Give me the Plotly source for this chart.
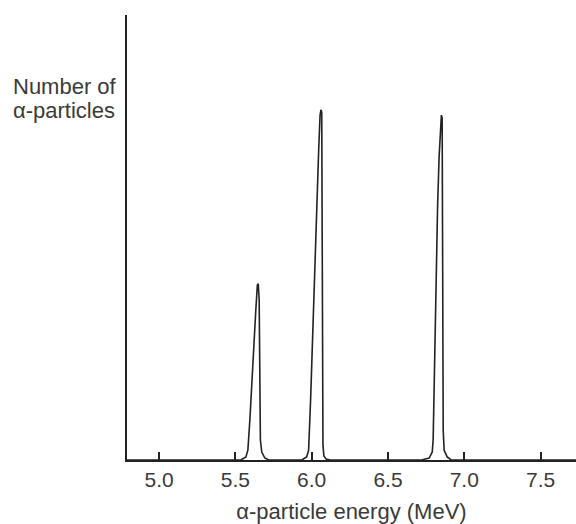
import plotly.graph_objects as go

# Spectrum outline (energy in MeV, counts in arbitrary units)
energy = [4.79, 5.50, 5.536, 5.569, 5.582, 5.595, 5.608, 5.621, 5.634, 5.644, 5.650,
          5.656, 5.659, 5.664, 5.673, 5.693, 5.719,
          5.935, 5.967, 5.980, 5.993, 6.007, 6.020, 6.033, 6.046, 6.055, 6.061, 6.066,
          6.069, 6.071, 6.074, 6.080, 6.095, 6.121,
          6.720, 6.770, 6.790, 6.796, 6.803, 6.808, 6.816, 6.825, 6.835, 6.845, 6.850,
          6.855, 6.858, 6.860, 6.862, 6.868, 6.888, 6.914, 7.732]
counts = [0, 0, 0, 0.7, 2.2, 9.0, 18.0, 27.0, 33.7, 39.3, 39.6,
          36.0, 13.5, 4.5, 1.8, 0.45, 0,
          0, 0.7, 2.2, 13.5, 29.2, 44.9, 58.4, 69.7, 77.5, 78.7, 78.2,
          58.4, 13.5, 3.4, 0.9, 0.2, 0,
          0, 0.45, 1.8, 4.5, 18.0, 30.8, 44.9, 56.9, 68.1, 75.3, 77.5,
          76.9, 58.4, 29.2, 6.7, 2.2, 0.7, 0, 0]

tick_vals = [5.0, 5.5, 6.0, 6.5, 7.0, 7.5]
tick_text = ["5.0", "5.5", "6.0", "6.5", "7.0", "7.5"]

x_title = "α-particle energy (MeV)"
y_title_lines = ["Number of", "α-particles"]

ink = "#222222"
text_col = "#3a3a3a"
font_family = "Liberation Sans, Arial, sans-serif"

fig = go.Figure()
fig.add_trace(go.Scatter(x=energy, y=counts, mode="lines",
                         line=dict(color=ink, width=1.6),
                         hoverinfo="skip", showlegend=False))

plot_h = 445.0
label_rows = [86, 111]  # pixel centres of the two label lines

fig.update_layout(
    width=576, height=524,
    margin=dict(l=127, r=0, t=15, b=64),
    paper_bgcolor="white", plot_bgcolor="white",
    font=dict(family=font_family, color=text_col, size=20),
    xaxis=dict(range=[4.79, 7.732], showgrid=False, zeroline=False,
               showline=True, linecolor=ink, linewidth=1.6,
               ticks="inside", ticklen=8, tickwidth=1.5, tickcolor=ink,
               tickvals=tick_vals, ticktext=tick_text,
               tickfont=dict(size=21, color=text_col),
               title=dict(text=x_title, font=dict(size=22, color=text_col), standoff=16)),
    yaxis=dict(range=[0, 100], showgrid=False, zeroline=False,
               showline=True, linecolor=ink, linewidth=1.6,
               ticks="", showticklabels=False),
    annotations=[dict(text=t, xref="paper", yref="paper",
                      x=(11 - 127) / 449, y=(460 - row) / plot_h,
                      xanchor="left", yanchor="middle", align="left", showarrow=False,
                      font=dict(size=22, color=text_col))
                 for t, row in zip(y_title_lines, label_rows)],
)

fig.write_html("out.html")
